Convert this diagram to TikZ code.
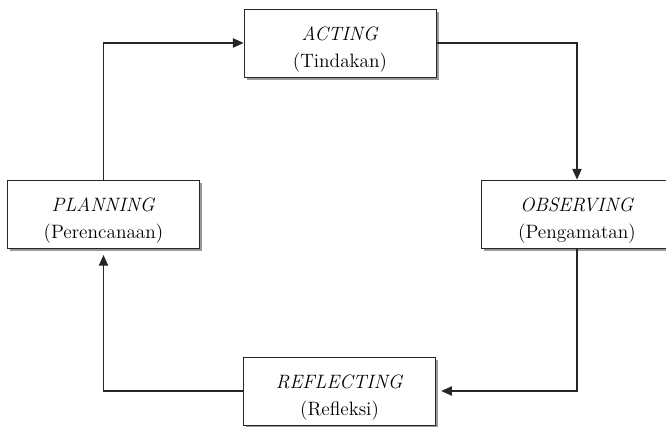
\documentclass[tikz,border=0pt]{standalone}
\usepackage{tikz}
\usetikzlibrary{arrows.meta, positioning, shadows}

\tikzset{
    stage/.style={draw=black!85, line width=0.6pt, fill=white,
        minimum width=144pt, minimum height=51pt, align=center,
        font=\fontsize{14.5}{20}\selectfont,
        drop shadow={shadow xshift=2.2pt, shadow yshift=-2.2pt, fill=black!40, opacity=1}},
    flow/.style={draw=black!85, line width=0.8pt, -{Triangle[length=8pt,width=7pt]}}
}
\newcommand{\stagetext}[2]{\rule{0pt}{20.5pt}\textit{#1}\\(#2)}

\begin{document}
\begin{tikzpicture}[x=0.75pt, y=-0.75pt]
    \useasboundingbox (0,0) rectangle (666,427);

    % Tahapan siklus
    \node[stage] (act)  at (340,43)    {\stagetext{ACTING}{Tindakan}};
    \node[stage] (plan) at (103.5,214) {\stagetext{PLANNING}{Perencanaan}};
    \node[stage] (obs)  at (577,214)   {\stagetext{OBSERVING}{Pengamatan}};
    \node[stage] (refl) at (339.5,391) {\stagetext{REFLECTING}{Refleksi}};

    % Alur siklus
    \draw[flow] (plan.north) |- (act.west);
    \draw[flow] (act.east) -| (obs.north);
    \draw[flow, shorten >=4pt] (obs.south) |- (refl.east);
    \draw[flow, shorten >=5pt] (refl.west) -| (plan.south);

\end{tikzpicture}
\end{document}
